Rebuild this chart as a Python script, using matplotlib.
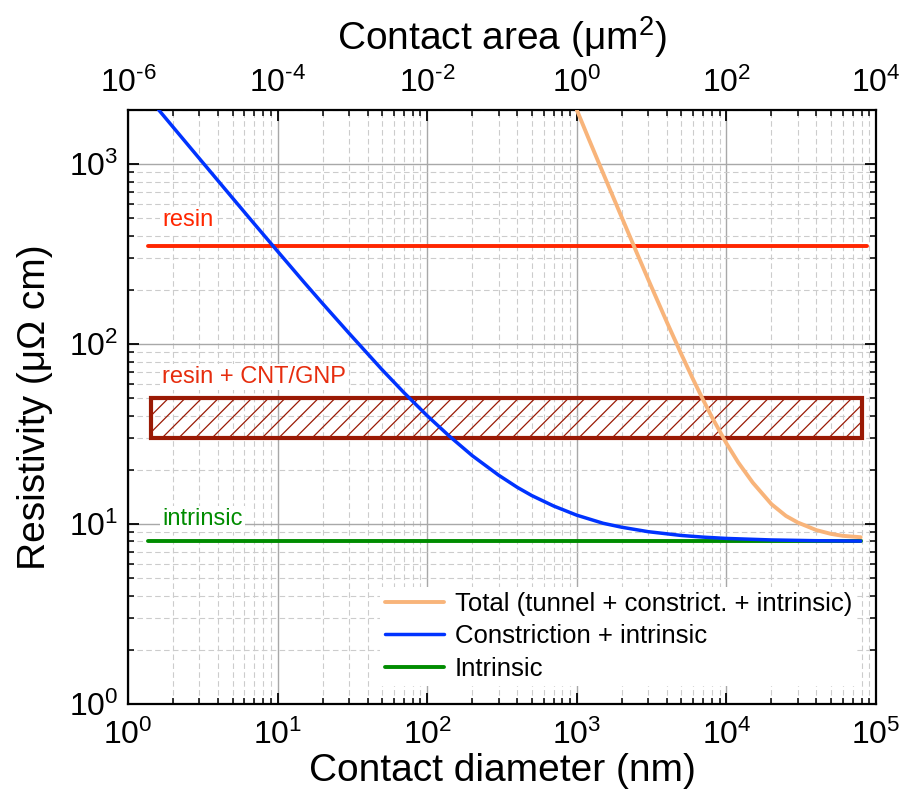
import math
import matplotlib
matplotlib.use("Agg")
import matplotlib.pyplot as plt
from matplotlib.patches import Rectangle
from matplotlib.ticker import LogLocator, FixedLocator, NullFormatter, NullLocator, FuncFormatter

plt.rcParams['font.family'] = ['Liberation Sans', 'DejaVu Sans']
plt.rcParams['mathtext.fontset'] = 'custom'
plt.rcParams['mathtext.rm'] = 'Liberation Sans'
plt.rcParams['mathtext.it'] = 'Liberation Sans:italic'
plt.rcParams['mathtext.bf'] = 'Liberation Sans:bold'
plt.rcParams['hatch.linewidth'] = 0.9

# ---- data: contact diameter (nm) vs resistivity (uOhm cm) ----
constr_d = [1.6, 2, 3, 5, 7, 10, 15, 20, 30, 50, 70, 100, 140, 200, 300, 400,
            500, 700, 1000, 1500, 2000, 3000, 5000, 7000, 10000, 20000, 40000, 79000]
constr_rho = [2008, 1608, 1075, 648, 465, 328, 221, 168, 115, 72, 53.7, 40, 30.9,
              24, 18.7, 16, 14.4, 12.6, 11.2, 10.1, 9.6, 9.07, 8.64, 8.46, 8.32,
              8.16, 8.08, 8.04]

total_d = [1000, 1200, 1500, 2000, 2500, 3000, 4000, 5000, 6000, 7000, 8000,
           10000, 12000, 15000, 20000, 25000, 30000, 40000, 50000, 60000, 79000]
total_rho = [2002, 1386, 890, 505, 326, 229, 132.5, 87.8, 63.5, 48.9, 39.3,
             28.1, 22, 17, 12.9, 11.1, 10.2, 9.25, 8.82, 8.6, 8.45]

intrinsic_d = [1.37, 79000]
intrinsic_rho = [8.0, 8.0]

resin_d = [1.37, 87000]
resin_rho = [350, 350]

filled_d = [1.43, 80000]       # resin + CNT/GNP band, x extent
filled_rho = [30, 50]          # resin + CNT/GNP band, lower/upper bound

area_ticks = [1e-6, 1e-4, 1e-2, 1e0, 1e2, 1e4]   # contact area, um^2

C_TOTAL = '#F8B47A'
C_CONSTR = '#0033FF'
C_INTR = '#008C00'
C_RESIN = '#FF2600'
C_FILLED = '#9A1A05'
C_FILLED_TXT = '#E62D0E'


def sci_label(v, pos=None):
    e = int(round(math.log10(v)))
    if e < 0:
        return r'$\mathdefault{10^{\text{-}%d}}$' % (-e)
    return r'$\mathdefault{10^{%d}}$' % e


fig = plt.figure(figsize=(9, 8), dpi=100)
ax = fig.add_axes([128 / 900, 1 - 704 / 800, (876 - 128) / 900, (704 - 110) / 800])

ax.set_xscale('log')
ax.set_yscale('log')
ax.set_xlim(1, 1e5)
ax.set_ylim(1, 2000)

# grid
ax.grid(True, which='major', color='#a8a8a8', lw=1.0, ls='-', zorder=0)
ax.grid(True, which='minor', color='#cccccc', lw=0.8, ls=(0, (5, 3)), zorder=0)
ax.set_axisbelow(True)

# curves
l_total, = ax.plot(total_d, total_rho, color=C_TOTAL, lw=2.8, zorder=4,
                   label='Total (tunnel + constrict. + intrinsic)', solid_capstyle='round')
l_constr, = ax.plot(constr_d, constr_rho, color=C_CONSTR, lw=2.5, zorder=5,
                    label='Constriction + intrinsic', solid_capstyle='round')
l_intr, = ax.plot(intrinsic_d, intrinsic_rho, color=C_INTR, lw=2.8, zorder=3,
                  label='Intrinsic', solid_capstyle='round')
ax.plot(resin_d, resin_rho, color=C_RESIN, lw=2.8, zorder=3, solid_capstyle='round')

# resin + CNT/GNP band
band = Rectangle((filled_d[0], filled_rho[0]), filled_d[1] - filled_d[0],
                 filled_rho[1] - filled_rho[0], facecolor='none',
                 edgecolor=C_FILLED, lw=3.0, hatch='//', zorder=2)
ax.add_patch(band)

# annotations
box = dict(facecolor='white', edgecolor='none', pad=1.5)
ax.text(1.69, 451, 'resin', color=C_RESIN, fontsize=17, va='baseline', ha='left',
        bbox=box, zorder=2.5)
ax.text(1.69, 60.9, 'resin + CNT/GNP', color=C_FILLED_TXT, fontsize=17,
        va='baseline', ha='left', bbox=box, zorder=2.5)
ax.text(1.69, 9.9, 'intrinsic', color=C_INTR, fontsize=17, va='baseline', ha='left',
        bbox=box, zorder=2.5)

# ticks
ax.xaxis.set_major_locator(LogLocator(base=10, numticks=20))
ax.xaxis.set_minor_locator(LogLocator(base=10, subs=range(2, 10), numticks=20))
ax.yaxis.set_major_locator(LogLocator(base=10, numticks=20))
ax.yaxis.set_minor_locator(LogLocator(base=10, subs=range(2, 10), numticks=20))
ax.xaxis.set_major_formatter(FuncFormatter(sci_label))
ax.yaxis.set_major_formatter(FuncFormatter(sci_label))
ax.xaxis.set_minor_formatter(NullFormatter())
ax.yaxis.set_minor_formatter(NullFormatter())
ax.tick_params(which='both', direction='in', top=True, right=True, labelsize=23,
               width=1.3)
ax.tick_params(which='major', length=8)
ax.tick_params(which='minor', length=4.5, width=1.1)
ax.tick_params(axis='x', which='major', pad=11)
ax.tick_params(axis='y', which='major', pad=7)
for s in ax.spines.values():
    s.set_linewidth(1.6)

ax.set_xlabel('Contact diameter (nm)', fontsize=28, labelpad=2)
ax.set_ylabel('Resistivity (μΩ cm)', fontsize=28, labelpad=11)


# top axis: contact area in um^2 for a diameter in nm
def d_to_area(d):
    return (d / 1000.0) ** 2


def area_to_d(a):
    return (a ** 0.5) * 1000.0


top = ax.secondary_xaxis('top', functions=(d_to_area, area_to_d))
top.xaxis.set_major_locator(FixedLocator(area_ticks))
top.xaxis.set_minor_locator(NullLocator())
top.xaxis.set_major_formatter(FuncFormatter(sci_label))
top.tick_params(which='major', length=0, labelsize=23, pad=8)
top.spines['top'].set_visible(False)
top.set_xlabel('Contact area (μm$^{2}$)', fontsize=28, labelpad=13)

leg = ax.legend(handles=[l_total, l_constr, l_intr], loc='upper left',
                bbox_to_anchor=(380 / 900, 1 - 587 / 800), bbox_transform=fig.transFigure,
                fontsize=18.5, frameon=True, fancybox=False, framealpha=1,
                facecolor='white', edgecolor='none', borderpad=0.2,
                handlelength=2.3, handletextpad=0.4, labelspacing=0.32,
                borderaxespad=0)
leg.set_zorder(6)

fig.savefig('out.png', dpi=100)
